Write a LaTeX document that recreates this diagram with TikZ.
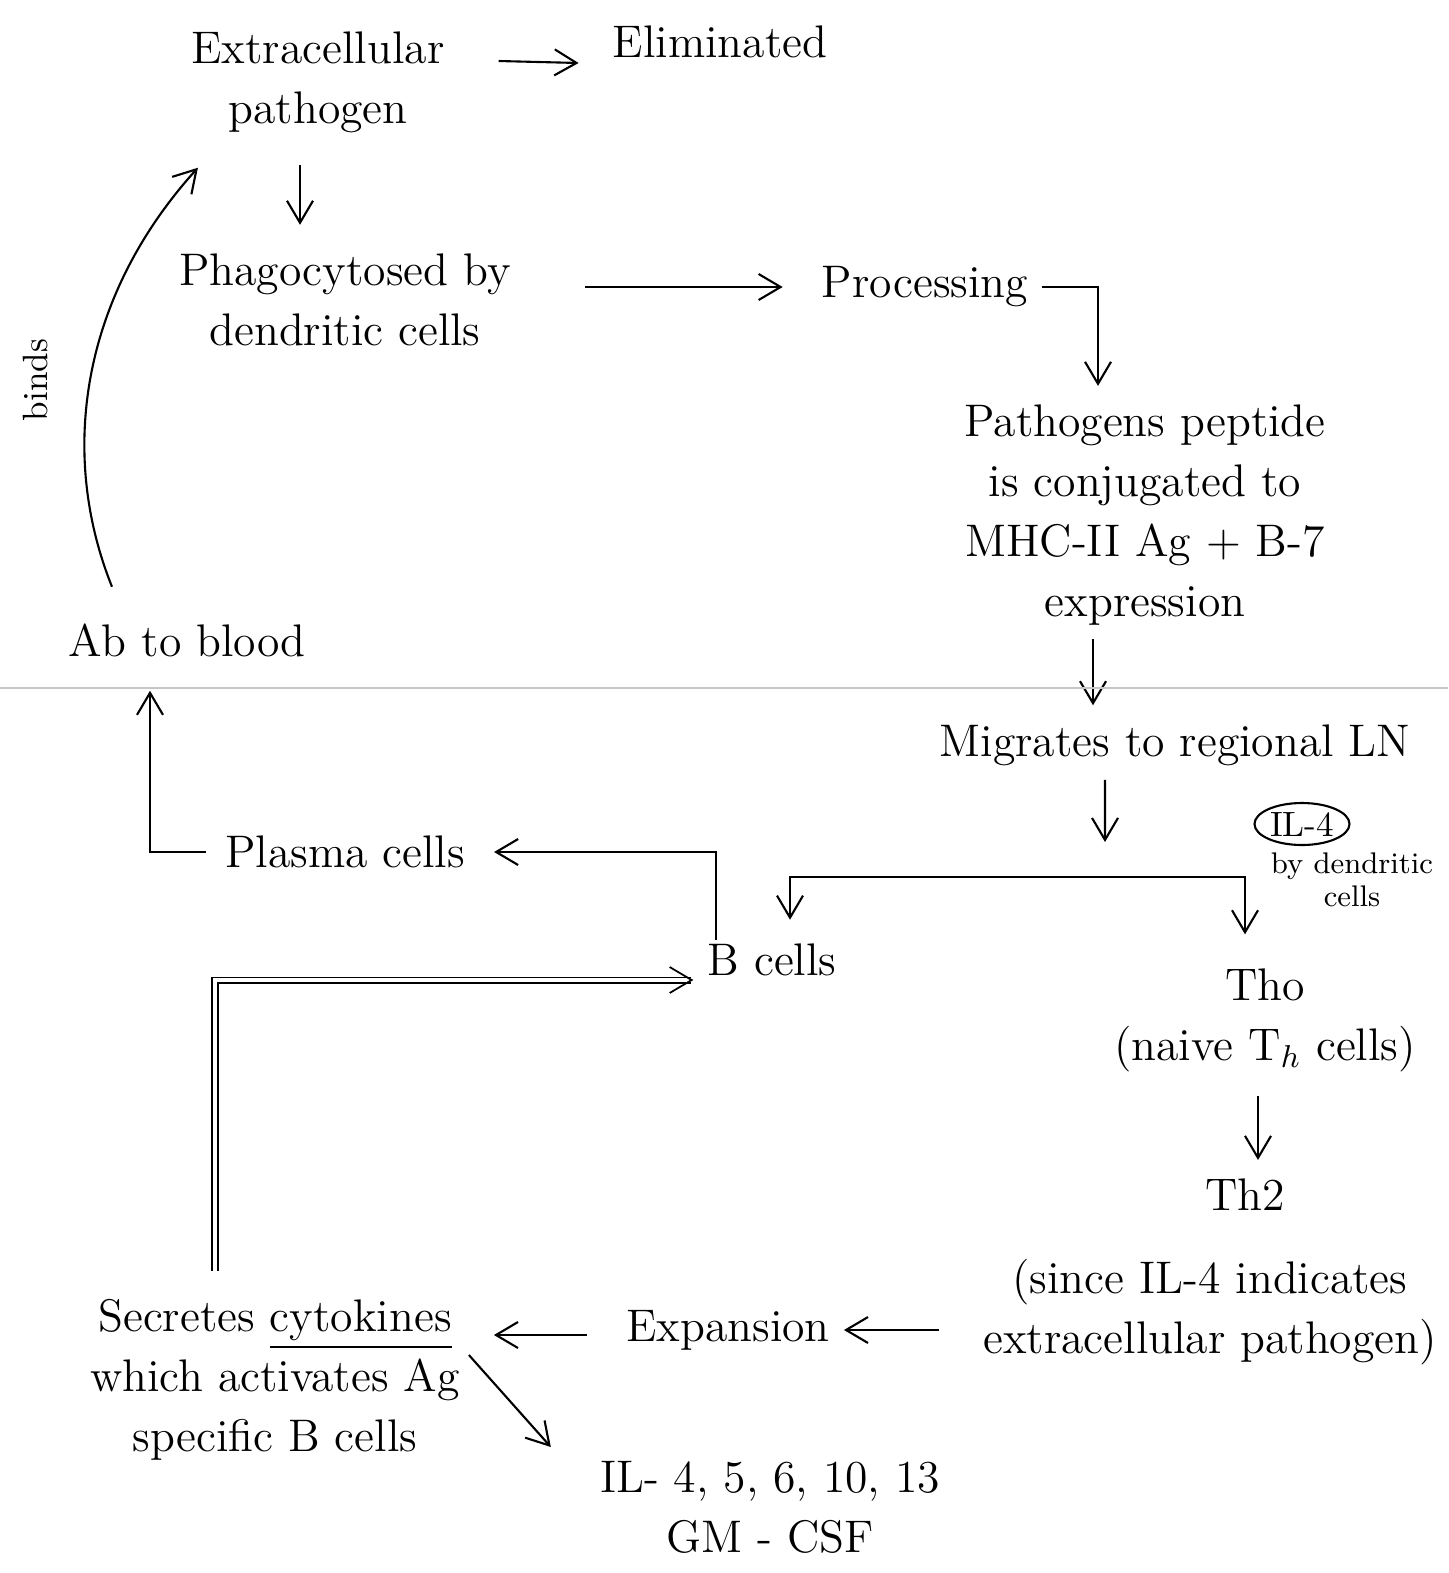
\documentclass[tikz,border=0pt]{standalone}
\usepackage{amsmath}
\usepackage{tikz}
\usetikzlibrary{positioning, arrows.meta, shapes.geometric, calc}

\begin{document}
\begin{tikzpicture}[
    txt/.style={font=\fontsize{13}{17}\selectfont, align=center, inner sep=1pt},
    smalltxt/.style={font=\fontsize{8.5}{9.5}\selectfont, align=center, inner sep=1pt},
    arrow/.style={-{Straight Barb[length=2.2mm, width=2.6mm]}, line width=0.6pt},
    oval/.style={ellipse, draw, line width=0.6pt, minimum width=0.95cm, minimum height=0.42cm, inner sep=0pt}
]
    \useasboundingbox (0,0) rectangle (14.48,-15.73);

    % Pathogen and its uptake
    \node[txt] (extra) at (3.18,-0.82) {Extracellular\\pathogen};
    \node[txt] (elim) at (7.2,-0.42) {Eliminated};
    \node[txt] (phago) at (3.45,-3.0) {Phagocytosed by\\dendritic cells};
    \node[txt] (proc) at (9.25,-2.87) {Processing};
    \node[txt] (pept) at (11.45,-5.15) {Pathogens peptide\\is conjugated to\\MHC-II Ag + B-7\\expression};
    \node[txt] (migr) at (11.75,-7.45) {Migrates to regional LN};

    \draw[arrow] ([shift={(5mm,2.1mm)}]extra.east) -- ([shift={(-3mm,-2.1mm)}]elim.west);
    \draw[arrow] ([xshift=-1.8mm,yshift=-2.8mm]extra.south) -- ([xshift=-1.8mm,yshift=2.5mm]extra.south |- phago.north);
    \draw[arrow, shorten <=7mm, shorten >=3.5mm] (phago.east |- proc.west) -- (proc.west);
    \draw[arrow, shorten >=1.5mm] ([xshift=1mm]proc.east) -| ([xshift=-4.7mm]pept.north);
    \draw[arrow, shorten <=1mm, shorten >=1.5mm] ([xshift=-5.2mm]pept.south) -- ([xshift=-5.2mm]pept.south |- migr.north);

    % Page rule
    \draw[gray!45, line width=0.6pt] (0,-6.88) -- (14.48,-6.88);

    % Lymph node
    \coordinate (fork) at (11.05,-8.77);
    \node[oval, font=\fontsize{10}{11}\selectfont] (il4) at (13.02,-8.24) {IL-4};
    \node[smalltxt] (bydc) at (13.52,-8.8) {by dendritic\\cells};
    \node[txt] (bcell) at (7.72,-9.6) {B cells};
    \node[txt] (plasma) at (3.45,-8.52) {Plasma cells};
    \node[txt] (ab) at (1.87,-6.4) {Ab to blood};
    \node[smalltxt, font=\fontsize{10}{11}\selectfont, rotate=90] (binds) at (0.35,-3.8) {binds};
    \node[txt] (tho) at (12.65,-10.2) {Tho\\(naive T$_h$ cells)};

    \draw[arrow, shorten >=3.5mm] ([xshift=-7mm,yshift=-1mm]migr.south) -- (fork);
    \draw[arrow, shorten >=2mm] (fork) -| ([xshift=1.8mm]bcell.north);
    \draw[arrow, shorten >=3mm] (fork) -| ([xshift=-2mm]tho.north);
    \draw[arrow, shorten >=2.5mm] ([xshift=-5.6mm]bcell.north) |- (plasma.east);
    \draw[arrow, shorten >=3mm] ([xshift=-1.5mm]plasma.west) -| ([xshift=-3.7mm]ab.south);
    \draw[arrow, shorten <=3.5mm, shorten >=1.5mm] ([xshift=-6.2mm]ab.north) to[bend left=32] ([xshift=-11mm,yshift=-2mm]extra.south);

    % T helper branch
    \node[txt] (th2) at (12.45,-11.95) {Th2};
    \node[txt] (since) at (12.1,-13.12) {(since IL-4 indicates\\extracellular pathogen)};
    \node[txt] (expan) at (7.28,-13.3) {Expansion};
    \node[txt] (secr) at (2.75,-13.8) {Secretes \underline{cytokines}\\which activates Ag\\specific B cells};
    \node[txt] (ils) at (7.7,-15.07) {IL- 4, 5, 6, 10, 13\\GM - CSF};

    \draw[arrow, shorten <=2mm, shorten >=1.5mm] ([xshift=1.3mm]th2.north |- tho.south) -- ([xshift=1.3mm]th2.north);
    \draw[arrow, shorten <=4mm, shorten >=1mm] (since.west |- expan.east) -- (expan.east);
    \draw[arrow, shorten <=3.5mm, shorten >=3mm] ([yshift=-0.5mm]expan.west) -- ([yshift=-0.5mm]expan.west -| secr.east);
    \draw[arrow] ([shift={(0.5mm,2.5mm)}]secr.east) -- ([shift={(-4.5mm,6mm)}]ils.west);
    \draw[arrow, double, double distance=1pt, line width=0.5pt] ([xshift=-6mm,yshift=2.5mm]secr.north) |- ([xshift=-1mm,yshift=-2mm]bcell.west);

\end{tikzpicture}
\end{document}
